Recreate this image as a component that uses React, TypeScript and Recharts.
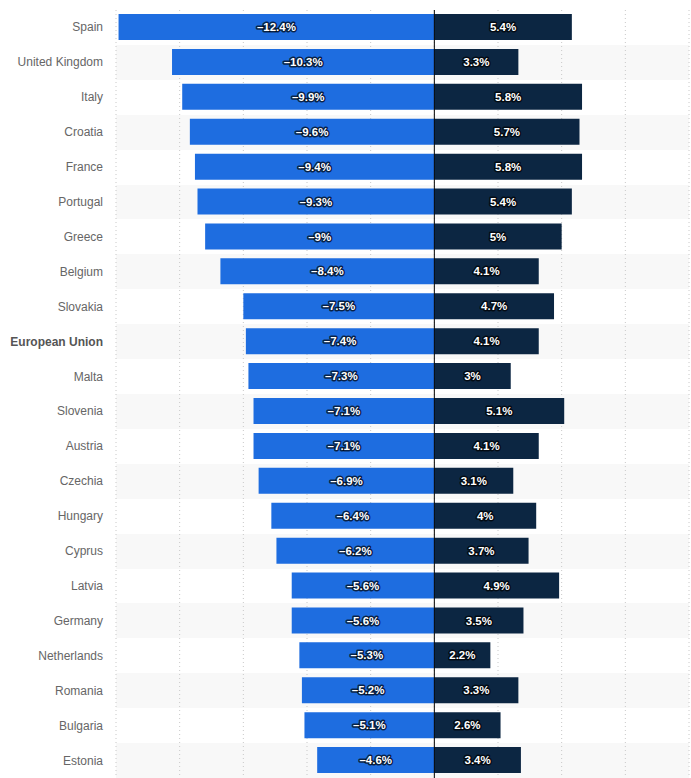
import React from "react";
import {
  BarChart,
  Bar,
  XAxis,
  YAxis,
  CartesianGrid,
  ReferenceLine,
  LabelList,
} from "recharts";

const categories = [
  "Spain",
  "United Kingdom",
  "Italy",
  "Croatia",
  "France",
  "Portugal",
  "Greece",
  "Belgium",
  "Slovakia",
  "European Union",
  "Malta",
  "Slovenia",
  "Austria",
  "Czechia",
  "Hungary",
  "Cyprus",
  "Latvia",
  "Germany",
  "Netherlands",
  "Romania",
  "Bulgaria",
  "Estonia",
];

const declineValues = [
  -12.4, -10.3, -9.9, -9.6, -9.4, -9.3, -9, -8.4, -7.5, -7.4, -7.3, -7.1, -7.1,
  -6.9, -6.4, -6.2, -5.6, -5.6, -5.3, -5.2, -5.1, -4.6,
];

const growthValues = [
  5.4, 3.3, 5.8, 5.7, 5.8, 5.4, 5, 4.1, 4.7, 4.1, 3, 5.1, 4.1, 3.1, 4, 3.7, 4.9,
  3.5, 2.2, 3.3, 2.6, 3.4,
];

const xTicks = [-12.5, -10, -7.5, -5, -2.5, 0, 2.5, 5, 7.5, 10];
const xDomain: [number, number] = [-12.5, 10];

const data = categories.map((name, i) => ({
  name,
  decline: declineValues[i],
  growth: growthValues[i],
}));

const BLUE = "#1e6de0";
const NAVY = "#0c2642";

const fmt = (v: any) => {
  const n = Number(v);
  return n < 0 ? `\u2013${Math.abs(n)}%` : `${n}%`;
};

const labelStyle = {
  fill: "#fff",
  fontSize: 11.5,
  fontWeight: 700,
  fontFamily: "'Liberation Sans', Arial, sans-serif",
  stroke: "rgba(0,0,0,0.7)",
  strokeWidth: 3,
  strokeLinejoin: "round" as const,
  paintOrder: "stroke" as const,
};

const CategoryTick = (props: any) => {
  const { x, y, payload } = props;
  const bold = payload.value === "European Union";
  return (
    <text
      x={x}
      y={y}
      dy={4}
      textAnchor="end"
      fontSize={12}
      fontFamily="'Liberation Sans', Arial, sans-serif"
      fontWeight={bold ? 700 : 400}
      fill={bold ? "#555" : "#666"}
    >
      {payload.value}
    </text>
  );
};

const stripeGen = (args: any) => {
  const off = args.offset;
  const n = categories.length;
  const pts: number[] = [];
  for (let i = 0; i <= n; i++) pts.push(off.top + (i * off.height) / n);
  return pts;
};

const vGridGen = (args: any) => {
  const off = args.offset;
  const sc = args.xAxis && args.xAxis.scale;
  return xTicks.map((t) =>
    typeof sc === "function"
      ? sc(t)
      : off.left + ((t - xDomain[0]) / (xDomain[1] - xDomain[0])) * off.width
  );
};

export default function App() {
  return (
    <div style={{ position: "absolute", left: 0, top: 0, background: "#fff" }}>
      <BarChart
        width={691}
        height={778}
        data={data}
        layout="vertical"
        stackOffset="sign"
        margin={{ top: 10, right: 2, bottom: 0, left: 0 }}
      >
        <CartesianGrid
          vertical={false}
          horizontal={true}
          stroke="transparent"
          horizontalFill={["#ffffff", "#f8f8f8"]}
          horizontalCoordinatesGenerator={stripeGen}
        />
        <CartesianGrid
          horizontal={false}
          vertical={true}
          stroke="#c8c8c8"
          strokeDasharray="1 3"
          verticalCoordinatesGenerator={vGridGen}
        />
        <XAxis
          type="number"
          domain={xDomain}
          ticks={xTicks}
          allowDataOverflow
          hide
        />
        <YAxis
          type="category"
          dataKey="name"
          width={116}
          interval={0}
          tickLine={false}
          axisLine={false}
          tickSize={0}
          tickMargin={13}
          tick={<CategoryTick />}
        />
        <Bar
          dataKey="decline"
          stackId="a"
          fill={BLUE}
          barSize={26}
          isAnimationActive={false}
        >
          <LabelList
            dataKey="decline"
            position="center"
            formatter={fmt}
            style={labelStyle}
          />
        </Bar>
        <Bar
          dataKey="growth"
          stackId="a"
          fill={NAVY}
          barSize={26}
          isAnimationActive={false}
        >
          <LabelList
            dataKey="growth"
            position="center"
            formatter={fmt}
            style={labelStyle}
          />
        </Bar>
        <ReferenceLine x={0} stroke="#000" strokeWidth={1} />
      </BarChart>
    </div>
  );
}
